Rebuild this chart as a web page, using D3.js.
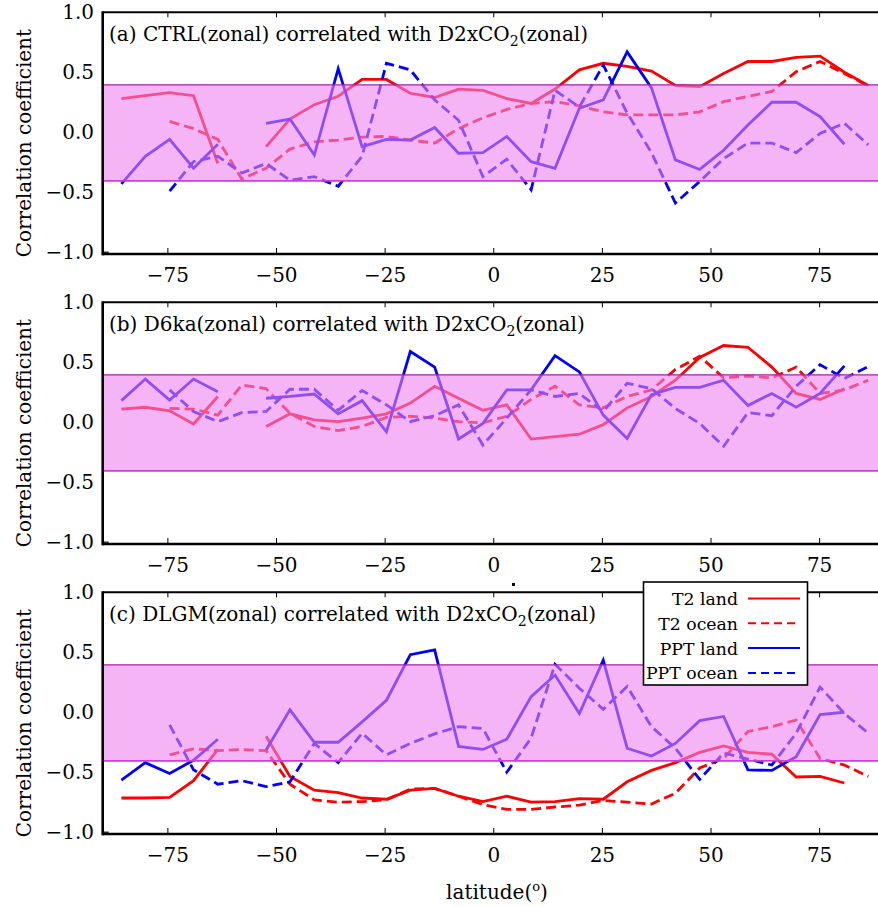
<!DOCTYPE html>
<html><head><meta charset="utf-8">
<script src="https://cdn.jsdelivr.net/npm/d3@7/dist/d3.min.js"></script>
<style>body{margin:0;background:#fff}svg{display:block}text{font-family:"DejaVu Serif",serif;fill:#000}</style>
</head><body>
<script>
// ---------- data ----------
const lats = [-85.7,-80.2,-74.6,-69.1,-63.5,-58.0,-52.4,-46.9,-41.3,-35.8,-30.3,-24.7,-19.2,-13.6,-8.1,-2.5,
              3.0,8.6,14.1,19.7,25.2,30.7,36.3,41.8,47.4,52.9,58.5,64.0,69.6,75.1,80.7,86.2];
const panelNames = ["(a) CTRL", "(b) D6ka", "(c) DLGM"];
const xTicks = [-75,-50,-25,0,25,50,75];
const yTicks = [-1.0,-0.5,0.0,0.5,1.0];
const bandLow = -0.405, bandHigh = 0.395;
const legendLabels = ["T2 land","T2 ocean","PPT land","PPT ocean"];

// Panel (a) CTRL
const t2LandA  = [0.28,0.305,0.33,0.305,-0.26,null,-0.12,0.11,0.23,0.30,0.44,0.44,0.325,0.29,0.36,0.35,0.28,0.24,0.36,0.52,0.575,0.55,0.51,0.39,0.38,0.49,0.59,0.59,0.625,0.635,0.50,0.39];
const t2OceanA = [null,null,0.09,0.03,-0.06,-0.39,-0.30,-0.14,-0.08,-0.065,-0.04,-0.035,-0.065,-0.09,0.03,0.12,0.19,0.24,0.255,0.22,0.17,0.145,0.145,0.145,0.17,0.255,0.30,0.34,0.505,0.59,0.49,0.385];
const pptLandA = [-0.43,-0.20,-0.06,-0.30,-0.10,null,0.075,0.11,-0.19,0.53,-0.12,-0.06,-0.065,0.04,-0.175,-0.17,-0.035,-0.245,-0.30,0.20,0.27,0.67,0.37,-0.23,-0.31,-0.15,0.06,0.25,0.25,0.13,-0.10,null];
const pptOceanA= [null,null,-0.49,-0.245,-0.20,-0.34,-0.26,-0.40,-0.37,-0.45,-0.20,0.575,0.52,0.27,0.10,-0.37,-0.225,-0.48,0.35,0.21,0.56,0.16,-0.17,-0.59,-0.41,-0.22,-0.09,-0.09,-0.17,-0.01,0.075,-0.105];
// Panel (b) D6ka
const t2LandB  = [0.11,0.125,0.095,-0.015,0.215,null,-0.035,0.07,0.02,0.005,0.035,0.07,0.16,0.30,0.20,0.10,0.145,-0.14,-0.12,-0.10,-0.02,0.12,0.215,0.35,0.54,0.64,0.625,0.46,0.24,0.19,0.28,null];
const t2OceanB = [null,null,0.115,0.11,0.06,0.31,0.28,0.075,-0.035,-0.07,-0.035,0.04,0.05,0.035,0.005,-0.005,0.05,0.19,0.30,0.145,0.12,0.215,0.27,0.44,0.55,0.37,0.385,0.37,0.46,0.24,0.27,0.35];
const pptLandB = [0.18,0.36,0.185,0.36,0.255,null,0.20,0.215,0.235,0.07,0.18,-0.08,0.59,0.46,-0.14,-0.01,0.27,0.27,0.555,0.42,0.06,-0.135,0.23,0.29,0.29,0.35,0.14,0.24,0.125,0.24,0.47,null];
const pptOceanB= [null,null,0.27,0.09,0.005,0.08,0.09,0.275,0.275,0.10,0.265,0.145,0.005,0.055,0.145,-0.19,0.035,0.27,0.215,0.24,0.09,0.325,0.28,0.115,-0.01,-0.20,0.08,0.055,0.30,0.48,0.365,0.465];
// Panel (c) DLGM
const t2LandC  = [-0.715,-0.715,-0.71,-0.57,-0.31,null,-0.20,-0.535,-0.65,-0.67,-0.715,-0.725,-0.65,-0.635,-0.70,-0.745,-0.70,-0.75,-0.745,-0.72,-0.725,-0.58,-0.485,-0.42,-0.335,-0.28,-0.335,-0.35,-0.54,-0.535,-0.59,null];
const t2OceanC = [null,null,-0.355,-0.305,-0.32,-0.31,-0.32,-0.60,-0.73,-0.75,-0.745,-0.73,-0.64,-0.635,-0.70,-0.77,-0.81,-0.81,-0.79,-0.775,-0.735,-0.75,-0.765,-0.675,-0.465,-0.385,-0.16,-0.12,-0.065,-0.385,-0.44,-0.535];
const pptLandC = [-0.565,-0.42,-0.51,-0.40,-0.225,null,-0.315,0.02,-0.25,-0.25,-0.08,0.10,0.48,0.52,-0.285,-0.31,-0.225,0.13,0.31,-0.01,0.435,-0.30,-0.365,-0.26,-0.07,-0.035,-0.48,-0.485,-0.37,-0.02,0.0,null];
const pptOceanC= [null,null,-0.105,-0.48,-0.60,-0.57,-0.62,-0.58,-0.26,-0.42,-0.175,-0.355,-0.26,-0.18,-0.12,-0.135,-0.50,-0.215,0.40,0.20,0.025,0.215,-0.12,-0.30,-0.56,-0.34,-0.39,-0.44,-0.175,0.21,-0.01,-0.175];

const panelSeries = [
  [t2LandA, t2OceanA, pptLandA, pptOceanA],
  [t2LandB, t2OceanB, pptLandB, pptOceanB],
  [t2LandC, t2OceanC, pptLandC, pptOceanC]
];
const seriesStyle = [
  {color:"#ff0000", dash:null},
  {color:"#ff0000", dash:"10,5"},
  {color:"#0000ff", dash:null},
  {color:"#0000ff", dash:"10,5"}
];

// ---------- drawing ----------
const W = 878, H = 907;
const svg = d3.select("body").append("svg").attr("width", W).attr("height", H);
const x = d3.scaleLinear().domain([-90, 90]).range([102.7, 884.8]);
const fmt = v => (v < 0 ? "\u2212" : "") + Math.abs(v).toFixed(1);
const fmtX = v => (v < 0 ? "\u2212" : "") + Math.abs(v);
const FS = 20;

panelSeries.forEach((series, p) => {
  const off = 290 * p;
  const top = 12.3 + off, bottom = 254 + off;
  const y = d3.scaleLinear().domain([-1.015, 1.0]).range([bottom, top]);
  const g = svg.append("g");
  const clipId = "clip" + p;
  svg.append("clipPath").attr("id", clipId).append("rect")
    .attr("x", x(-90)).attr("y", top).attr("width", x(90) - x(-90)).attr("height", bottom - top);
  const plot = g.append("g").attr("clip-path", `url(#${clipId})`);

  const line = d3.line().defined(d => d[1] != null).x(d => x(d[0])).y(d => y(d[1]));
  series.forEach((vals, k) => {
    const st = seriesStyle[k];
    plot.append("path")
      .attr("d", line(lats.map((la, i) => [la, vals[i]])))
      .attr("fill", "none").attr("stroke", st.color).attr("stroke-width", 2.8)
      .attr("stroke-dasharray", st.dash).attr("stroke-linejoin", "miter");
  });
  // significance band drawn over the lines
  plot.append("rect").attr("x", x(-90)).attr("width", x(90) - x(-90))
    .attr("y", y(bandHigh)).attr("height", y(bandLow) - y(bandHigh))
    .attr("fill", "violet").attr("fill-opacity", 0.6);
  plot.append("line").attr("x1", x(-90)).attr("x2", x(90)).attr("y1", y(bandHigh)).attr("y2", y(bandHigh))
    .attr("stroke", "#a323a3").attr("stroke-width", 1.2);
  plot.append("line").attr("x1", x(-90)).attr("x2", x(90)).attr("y1", y(bandLow)).attr("y2", y(bandLow))
    .attr("stroke", "#cc3fd6").attr("stroke-width", 1.6);

  // spines
  g.append("line").attr("x1", x(-90)).attr("x2", W).attr("y1", top).attr("y2", top).attr("stroke", "#000").attr("stroke-width", 2);
  g.append("line").attr("x1", x(-90)).attr("x2", W).attr("y1", bottom).attr("y2", bottom).attr("stroke", "#000").attr("stroke-width", 2.6);
  g.append("line").attr("x1", x(-90)).attr("x2", x(-90)).attr("y1", top - 1).attr("y2", bottom + 1.3).attr("stroke", "#000").attr("stroke-width", 2.6);

  // x ticks (inward, top and bottom)
  xTicks.forEach(t => {
    g.append("line").attr("x1", x(t)).attr("x2", x(t)).attr("y1", top).attr("y2", top + 5).attr("stroke", "#000").attr("stroke-width", 1);
    g.append("line").attr("x1", x(t)).attr("x2", x(t)).attr("y1", bottom).attr("y2", bottom - 6).attr("stroke", "#000").attr("stroke-width", 1);
    g.append("text").attr("x", x(t)).attr("y", bottom + 28).attr("text-anchor", "middle")
      .attr("font-size", FS).text(fmtX(t));
  });
  g.append("line").attr("x1", x(-90)).attr("x2", x(-90) + 6).attr("y1", y(-1)).attr("y2", y(-1)).attr("stroke", "#000").attr("stroke-width", 1.2);
  yTicks.forEach(t => {
    g.append("text").attr("x", 94).attr("y", y(t) + 7).attr("text-anchor", "end")
      .attr("font-size", FS).text(fmt(t));
  });

  // y label
  g.append("text").attr("transform", `translate(31,${(top + bottom) / 2 + 10}) rotate(-90)`)
    .attr("text-anchor", "middle").attr("font-size", FS).text("Correlation coefficient");

  // panel title
  const tt = g.append("text").attr("x", 109).attr("y", top + 29).attr("font-size", FS);
  tt.append("tspan").text(panelNames[p] + "(zonal) correlated with D2xCO");
  tt.append("tspan").attr("font-size", 14).attr("dy", 5).text("2");
  tt.append("tspan").attr("dy", -5).text("(zonal)");
});

// x-axis label
const xl = svg.append("text").attr("x", 497).attr("y", 899).attr("text-anchor", "middle").attr("font-size", FS);
xl.append("tspan").text("latitude(");
xl.append("tspan").attr("font-size", 13).attr("dy", -8).text("o");
xl.append("tspan").attr("dy", 8).text(")");

// stray mark
svg.append("rect").attr("x", 512).attr("y", 583).attr("width", 3).attr("height", 3).attr("fill", "#000");

// legend
const lg = svg.append("g");
lg.append("rect").attr("x", 643.5).attr("y", 582).attr("width", 164).attr("height", 103)
  .attr("fill", "#fff").attr("stroke", "#000").attr("stroke-width", 1.6);
legendLabels.forEach((lab, k) => {
  const yy = 598.5 + k * 24.8;
  lg.append("text").attr("x", 738).attr("y", yy + 6.5).attr("text-anchor", "end").attr("font-size", 17.3).text(lab);
  lg.append("line").attr("x1", 748).attr("x2", 800).attr("y1", yy).attr("y2", yy)
    .attr("stroke", seriesStyle[k].color).attr("stroke-width", 2)
    .attr("stroke-dasharray", seriesStyle[k].dash ? "8,5" : null);
});
</script>
</body></html>
